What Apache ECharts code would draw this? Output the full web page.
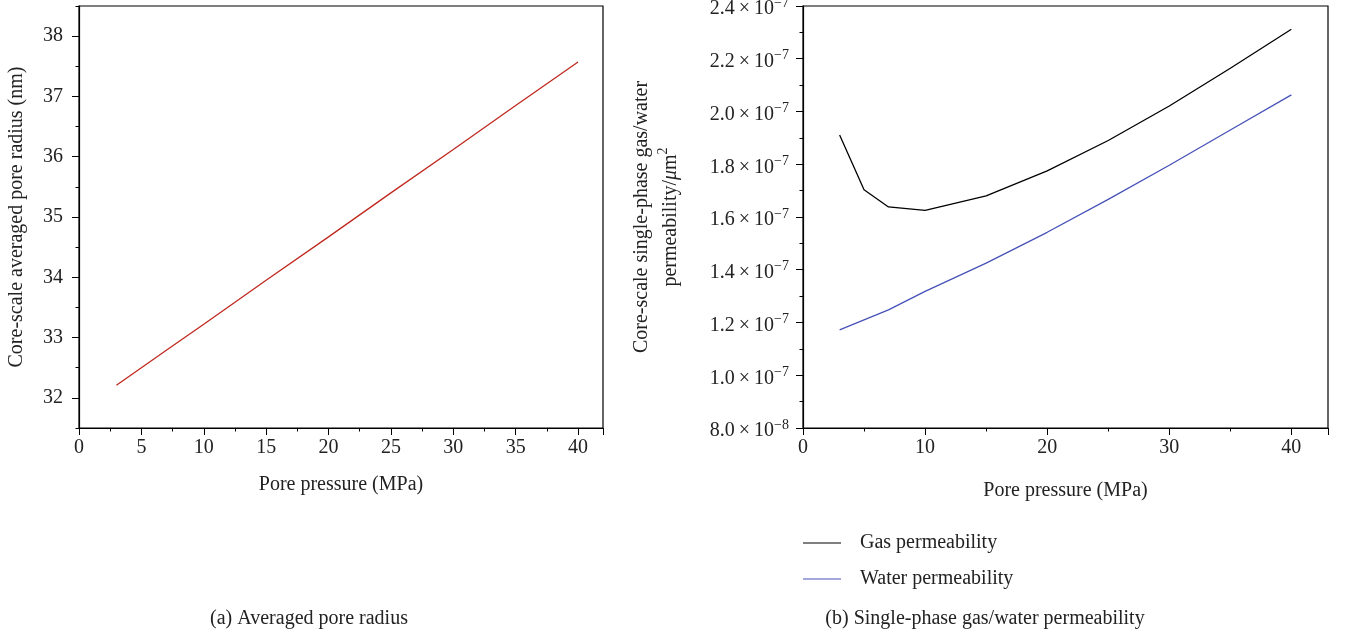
<!DOCTYPE html>
<html>
<head>
<meta charset="utf-8">
<script src="https://cdn.jsdelivr.net/npm/echarts@6/dist/echarts.min.js"></script>
<style>
html,body{margin:0;padding:0;background:#fff;}
#chart{width:1346px;height:635px;}
</style>
</head>
<body>
<div id="chart"></div>
<script>
// ---- data ----
const pressure = [3, 5, 7, 10, 15, 20, 25, 30, 35, 40];
const poreRadius = [32.21, 32.50, 32.79, 33.22, 33.95, 34.67, 35.40, 36.12, 36.85, 37.57];
const gasPerm = [1.911e-7, 1.703e-7, 1.638e-7, 1.625e-7, 1.680e-7, 1.775e-7, 1.890e-7, 2.021e-7, 2.164e-7, 2.312e-7];
const waterPerm = [1.172e-7, 1.210e-7, 1.248e-7, 1.318e-7, 1.425e-7, 1.542e-7, 1.667e-7, 1.796e-7, 1.930e-7, 2.063e-7];
const leftXTicks = [0, 5, 10, 15, 20, 25, 30, 35, 40];
const leftYTicks = [32, 33, 34, 35, 36, 37, 38];
const leftYMinorTicks = [31.5, 32.5, 33.5, 34.5, 35.5, 36.5, 37.5, 38.5];
const rightXTicks = [0, 10, 20, 30, 40];

const FONT = '"Liberation Serif", "DejaVu Serif", serif';
const FS = 20;
const chart = echarts.init(document.getElementById('chart'), null, {renderer: 'canvas'});

function pairs(xs, ys) { return xs.map((x, i) => [x, ys[i]]); }

function sciLabel(v) {
  const s = v.toExponential(1).split('e');
  const exp = parseInt(s[1], 10);
  return s[0] + '\u2009×\u200910{sup|−' + Math.abs(exp) + '}';
}

const axisCommon = {
  axisLine: {show: true, onZero: false, lineStyle: {color: '#000', width: 1.2}},
  axisTick: {show: true, inside: false, length: 7, lineStyle: {color: '#000', width: 1}},
  minorTick: {show: true, splitNumber: 2, length: 3.5, lineStyle: {color: '#000', width: 1}},
  splitLine: {show: false},
  axisLabel: {color: '#222', fontFamily: FONT, fontSize: FS, margin: 10},
  nameTextStyle: {color: '#222', fontFamily: FONT, fontSize: FS}
};

const option = {
  backgroundColor: '#fff',
  animation: false,
  grid: [
    {left: 79, right: 743, top: 6, bottom: 207, show: true, borderColor: '#000', borderWidth: 1.2,
     backgroundColor: 'transparent', containLabel: false, outerBoundsMode: 'none'},
    {left: 803, right: 18, top: 6, bottom: 207, show: true, borderColor: '#000', borderWidth: 1.2,
     backgroundColor: 'transparent', containLabel: false, outerBoundsMode: 'none'}
  ],
  xAxis: [
    Object.assign({}, axisCommon, {
      gridIndex: 0, type: 'value', min: 0, max: 42, interval: 5,
      name: 'Pore pressure (MPa)', nameLocation: 'middle', nameGap: 47,
      axisLabel: Object.assign({}, axisCommon.axisLabel, {
        formatter: v => leftXTicks.includes(v) ? String(v) : ''
      })
    }),
    Object.assign({}, axisCommon, {
      gridIndex: 1, type: 'value', min: 0, max: 43, interval: 10,
      name: 'Pore pressure (MPa)', nameLocation: 'middle', nameGap: 53,
      axisLabel: Object.assign({}, axisCommon.axisLabel, {
        formatter: v => rightXTicks.includes(v) ? String(v) : ''
      })
    })
  ],
  yAxis: [
    Object.assign({}, axisCommon, {
      gridIndex: 0, type: 'value', min: 31.5, max: 38.5,
      minorTick: {show: false},
      axisTick: {show: true, length: 7, customValues: leftYTicks, lineStyle: {color: '#000', width: 1}},
      name: 'Core-scale averaged pore radius (nm)', nameLocation: 'middle', nameGap: 52,
      axisLabel: Object.assign({}, axisCommon.axisLabel, {
        margin: 16, customValues: leftYTicks,
        formatter: v => String(v)
      })
    }),
    Object.assign({}, axisCommon, {
      gridIndex: 1, type: 'value', min: 8e-8, max: 2.4e-7, interval: 2e-8,
      name: 'Core-scale single-phase gas/water\npermeability/{mu|μ}m{sup|2}', nameLocation: 'middle', nameGap: 118,
      nameTextStyle: {
        color: '#222', fontFamily: FONT, fontSize: FS, lineHeight: 29, align: 'center',
        rich: {
          mu: {fontFamily: FONT, fontSize: FS, fontStyle: 'italic', color: '#222'},
          sup: {fontFamily: FONT, fontSize: 14, color: '#222', verticalAlign: 'top', padding: [0, 0, 10, 0]}
        }
      },
      axisLabel: {
        color: '#222', fontFamily: FONT, fontSize: FS, margin: 14, padding: [6, 0, 0, 0],
        formatter: v => sciLabel(v),
        rich: {
          sup: {fontFamily: FONT, fontSize: 14, color: '#222', verticalAlign: 'top', padding: [0, 0, 12, 0]}
        }
      }
    }),
    {
      // minor ticks of the left y axis
      gridIndex: 0, type: 'value', min: 31.5, max: 38.5, position: 'left',
      axisLine: {show: false}, splitLine: {show: false}, axisLabel: {show: false},
      axisTick: {show: true, length: 3.5, customValues: leftYMinorTicks, lineStyle: {color: '#000', width: 1}}
    }
  ],
  legend: {
    orient: 'vertical', left: 803, top: 533, padding: 0, itemWidth: 38, itemHeight: 10, itemGap: 16,
    icon: 'path://M0,5 L38,5 L38,6 L0,6 Z',
    textStyle: {color: '#222', fontFamily: FONT, fontSize: FS, padding: [0, 0, 0, 14]},
    data: [
      {name: 'Gas permeability', itemStyle: {color: '#000'}},
      {name: 'Water permeability', itemStyle: {color: '#4652b8'}}
    ]
  },
  title: [
    {text: '(a) Averaged pore radius', left: 304, top: 604, textAlign: 'center',
     textStyle: {color: '#222', fontFamily: FONT, fontSize: FS, fontWeight: 'normal'}},
    {text: '(b) Single-phase gas/water permeability', left: 980, top: 604, textAlign: 'center',
     textStyle: {color: '#222', fontFamily: FONT, fontSize: FS, fontWeight: 'normal'}}
  ],
  series: [
    {name: 'Pore radius', type: 'line', xAxisIndex: 0, yAxisIndex: 0, data: pairs(pressure, poreRadius),
     showSymbol: false, symbol: 'none', lineStyle: {color: '#c0281e', width: 1.3}, itemStyle: {color: '#c0281e'}},
    {name: 'Gas permeability', type: 'line', xAxisIndex: 1, yAxisIndex: 1, data: pairs(pressure, gasPerm),
     showSymbol: false, symbol: 'none', lineStyle: {color: '#000', width: 1.3}, itemStyle: {color: '#000'}},
    {name: 'Water permeability', type: 'line', xAxisIndex: 1, yAxisIndex: 1, data: pairs(pressure, waterPerm),
     showSymbol: false, symbol: 'none', lineStyle: {color: '#4652b8', width: 1.3}, itemStyle: {color: '#4652b8'}}
  ]
};
chart.setOption(option);
</script>
</body>
</html>
